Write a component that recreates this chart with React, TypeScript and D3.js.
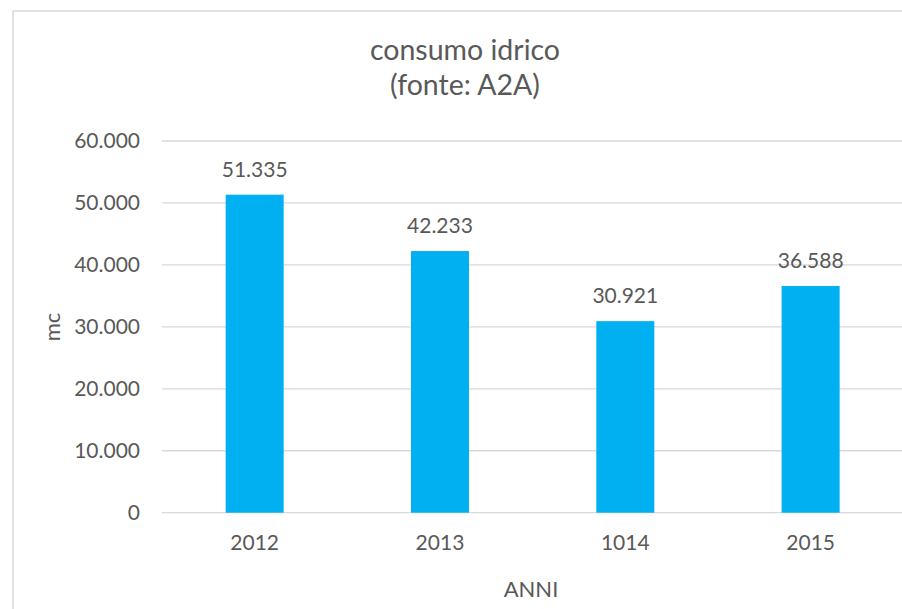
import React from "react";
import * as d3 from "d3";

const categories = ["2012", "2013", "1014", "2015"];
const values = [51335, 42233, 30921, 36588];
const yTicks = [0, 10000, 20000, 30000, 40000, 50000, 60000];
const titleLines = ["consumo idrico", "(fonte: A2A)"];
const xTitle = "ANNI";
const yTitle = "mc";

const W = 902;
const H = 609;
const FONT = "Lato, 'Open Sans', sans-serif";
const TXT = "#595959";

export default function App() {
  const locale = d3.formatLocale({ decimal: ",", thousands: ".", grouping: [3], currency: ["€", ""] });
  const fmt = locale.format(",d");
  const x = d3.scaleBand<string>().domain(categories).range([162, 903.3]).paddingInner(0.687).paddingOuter(0.3435);
  const y = d3.scaleLinear().domain([0, 60000]).range([512.7, 141]);
  const x0 = 162;
  const x1 = 903.3;
  return (
    <svg width={W} height={H} style={{ position: "absolute", left: 0, top: 0, background: "#fff" }}>
      <rect x={0} y={0} width={W} height={H} fill="#fff" />
      <path d={`M13,${H} L13,11 L${W},11`} fill="none" stroke="#d9d9d9" strokeWidth={1.5} />
      <text x={465} y={60} textAnchor="middle" fontFamily={FONT} fontSize={28.5} fill={TXT}>{titleLines[0]}</text>
      <text x={465} y={95} textAnchor="middle" fontFamily={FONT} fontSize={28.5} fill={TXT}>{titleLines[1]}</text>
      {yTicks.map((t) => (
        <g key={t}>
          <line x1={x0} x2={x1} y1={y(t)} y2={y(t)} stroke="#d9d9d9" strokeWidth={1.3} />
          <text x={140} y={y(t)} dy="0.35em" textAnchor="end" fontFamily={FONT} fontSize={21} fill={TXT}>{fmt(t)}</text>
        </g>
      ))}
      {categories.map((c, i) => (
        <g key={c}>
          <rect x={x(c)} y={y(values[i])} width={x.bandwidth()} height={y(0) - y(values[i])} fill="#00b0f0" />
          <text x={(x(c) as number) + x.bandwidth() / 2} y={y(values[i]) - 18} textAnchor="middle" fontFamily={FONT} fontSize={21} fill={TXT}>{fmt(values[i])}</text>
          <text x={(x(c) as number) + x.bandwidth() / 2} y={550} textAnchor="middle" fontFamily={FONT} fontSize={21} fill={TXT}>{c}</text>
        </g>
      ))}
      <text x={531} y={597} textAnchor="middle" fontFamily={FONT} fontSize={22} fill={TXT}>{xTitle}</text>
      <text transform="translate(60,327) rotate(-90)" textAnchor="middle" fontFamily={FONT} fontSize={22} fill={TXT}>{yTitle}</text>
    </svg>
  );
}
